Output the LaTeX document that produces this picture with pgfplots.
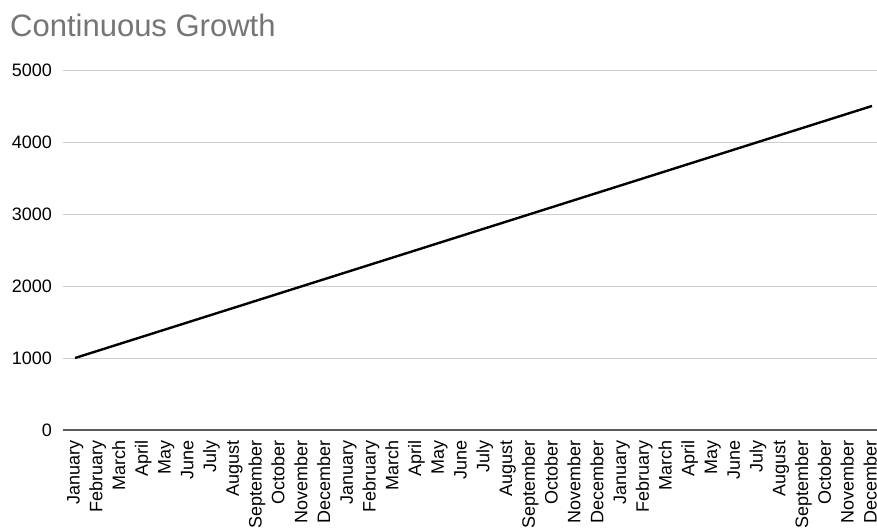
\documentclass[border=0pt]{standalone}
\usepackage{fontspec}
\setmainfont{Liberation Sans}
\usepackage{pgfplots}
\pgfplotsset{compat=1.18}
\definecolor{titlegray}{RGB}{117,117,117}
\definecolor{gridgray}{RGB}{204,204,204}
\definecolor{basegray}{RGB}{90,90,90}
\begin{document}
\begin{tikzpicture}
\begin{axis}[
  name=ax,
  at={(0,0)}, anchor=south west,
  scale only axis,
  width=814bp, height=360bp,
  xmin=-0.53, xmax=35.22,
  ymin=0, ymax=5000,
  ytick={0,1000,...,5000},
  xtick={0,...,35},
  xticklabels={January,February,March,April,May,June,July,August,September,October,November,December,
               January,February,March,April,May,June,July,August,September,October,November,December,
               January,February,March,April,May,June,July,August,September,October,November,December},
  axis x line*=bottom,
  axis y line*=left,
  x axis line style={draw=basegray, line width=1.4bp},
  y axis line style={draw=none},
  major tick length=0pt,
  ymajorgrids,
  grid style={draw=gridgray, line width=0.9bp},
  /pgf/number format/assume math mode=true,
  /pgf/number format/1000 sep={},
  tick label style={font=\fontsize{18bp}{21bp}\selectfont, text=black},
  yticklabel style={anchor=east, inner sep=0pt, xshift=-11bp},
  xticklabel style={rotate=90, anchor=east, inner xsep=10bp, inner ysep=0pt,
                    text height=13bp, text depth=4bp},
  clip=false,
]
\addplot[black, line width=2.4bp, mark=none] coordinates {
  (0,1000) (1,1100) (2,1200) (3,1300) (4,1400) (5,1500)
  (6,1600) (7,1700) (8,1800) (9,1900) (10,2000) (11,2100)
  (12,2200) (13,2300) (14,2400) (15,2500) (16,2600) (17,2700)
  (18,2800) (19,2900) (20,3000) (21,3100) (22,3200) (23,3300)
  (24,3400) (25,3500) (26,3600) (27,3700) (28,3800) (29,3900)
  (30,4000) (31,4100) (32,4200) (33,4300) (34,4400) (35,4500)
};
\end{axis}
\node[anchor=base west, inner sep=0pt, text=titlegray,
      font=\fontsize{31bp}{37bp}\selectfont]
  at ([xshift=-53bp, yshift=33bp]ax.north west) {Continuous Growth};
\pgfresetboundingbox
\path[use as bounding box] ([xshift=-63bp, yshift=-100bp]ax.south west)
  rectangle ([yshift=70bp]ax.north east);
\end{tikzpicture}
\end{document}
